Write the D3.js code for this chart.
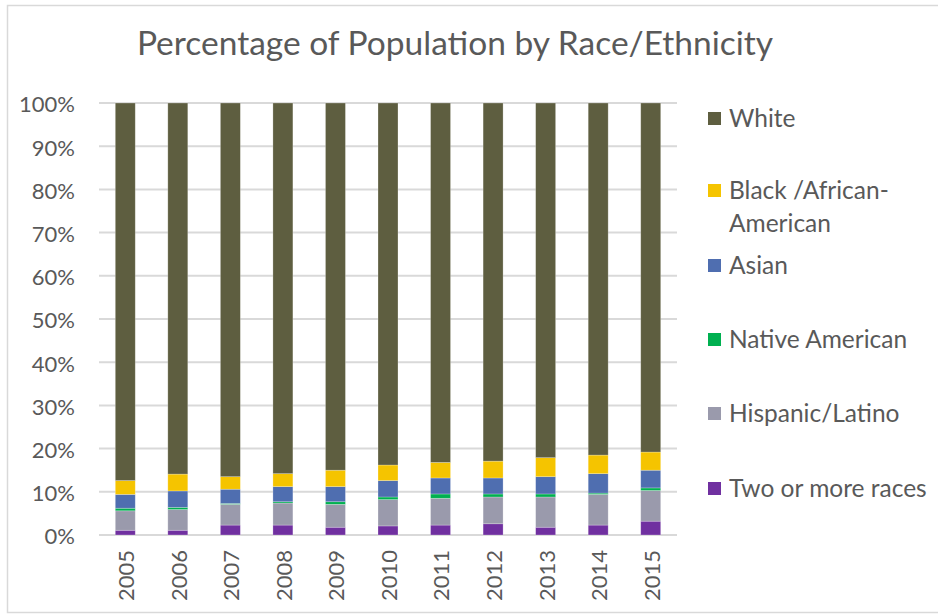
<!DOCTYPE html>
<html>
<head>
<meta charset="utf-8">
<script src="https://d3js.org/d3.v7.min.js"></script>
<style>
  body { margin: 0; background: #fff; }
  text { font-family: Lato, "Open Sans", sans-serif; fill: #595959; }
</style>
</head>
<body>
<script>

// the data (percent of population)
var years = ["2005", "2006", "2007", "2008", "2009", "2010", "2011", "2012", "2013", "2014", "2015"];
var twoOrMore = [1.1, 1.1, 2.3, 2.3, 1.8, 2.1, 2.3, 2.6, 1.8, 2.3, 3.2];
var hispanic  = [4.5, 4.8, 4.8, 5.1, 5.3, 6.1, 6.2, 6.2, 7.0, 7.1, 7.1];
var native    = [0.6, 0.5, 0.2, 0.3, 0.6, 0.6, 1.0, 0.7, 0.7, 0.3, 0.6];
var asian     = [3.2, 3.8, 3.3, 3.5, 3.5, 3.8, 3.7, 3.7, 4.0, 4.5, 4.1];
var black     = [3.2, 3.9, 2.9, 3.0, 3.8, 3.6, 3.6, 3.9, 4.4, 4.3, 4.2];
var white     = [87.4, 85.9, 86.5, 85.8, 85.0, 83.8, 83.2, 82.9, 82.1, 81.5, 80.8];
var yTicks = [0, 10, 20, 30, 40, 50, 60, 70, 80, 90, 100];

// series in stacking order (bottom first)
var keys = ["Two or more races", "Hispanic/Latino", "Native American", "Asian", "Black /African-American", "White"];
var colors = ["#7030a0", "#9a9aac", "#00b050", "#4f6eb0", "#f5c400", "#5e5e40"];

var table = years.map(function(y, i) {
  return {
    year: y,
    "Two or more races": twoOrMore[i],
    "Hispanic/Latino": hispanic[i],
    "Native American": native[i],
    "Asian": asian[i],
    "Black /African-American": black[i],
    "White": white[i]
  };
});

var W = 938, H = 615;
var plot = {left: 99, right: 677, top: 103, bottom: 535};

var svg = d3.select("body").append("svg")
    .attr("width", W)
    .attr("height", H);

// chart border (right edge runs off the picture)
svg.append("rect")
    .attr("x", 7.5).attr("y", 5.5)
    .attr("width", 960).attr("height", 607)
    .attr("fill", "#fff")
    .attr("stroke", "#d9d9d9")
    .attr("stroke-width", 1.5);

// title
svg.append("text")
    .attr("x", 455).attr("y", 55)
    .attr("text-anchor", "middle")
    .style("font-size", "33.5px")
    .text("Percentage of Population by Race/Ethnicity");

// scales
var x = d3.scaleBand().domain(years).range([plot.left, plot.right]).paddingInner(0.62).paddingOuter(0.31);
var y = d3.scaleLinear().domain([0, 100]).range([plot.bottom, plot.top]);
var color = d3.scaleOrdinal().domain(keys).range(colors);

// gridlines
svg.append("g")
  .selectAll("line")
  .data(yTicks)
  .enter().append("line")
    .attr("x1", plot.left).attr("x2", plot.right)
    .attr("y1", function(d) { return y(d); })
    .attr("y2", function(d) { return y(d); })
    .attr("stroke", "#d9d9d9")
    .attr("stroke-width", 2);

// y axis labels
var yAxis = d3.axisLeft(y).tickValues(yTicks).tickSize(0).tickPadding(24)
    .tickFormat(function(d) { return d + "%"; });
svg.append("g")
    .attr("transform", "translate(" + plot.left + ",0)")
    .call(yAxis)
    .call(function(g) { g.select(".domain").remove(); })
    .selectAll("text")
      .attr("dy", "0.4em")
      .style("font-size", "22px")
      .style("font-family", "Lato, sans-serif")
      .attr("fill", "#595959");

// stacked bars
var series = d3.stack().keys(keys)(table);

svg.append("g")
  .selectAll("g")
  .data(series)
  .enter().append("g")
    .attr("fill", function(d) { return color(d.key); })
  .selectAll("rect")
  .data(function(d) { return d; })
  .enter().append("rect")
    .attr("x", function(d) { return x(d.data.year); })
    .attr("y", function(d) { return y(d[1]); })
    .attr("height", function(d) { return y(d[0]) - y(d[1]); })
    .attr("width", x.bandwidth())
    .attr("stroke", "rgba(255,255,255,0.35)")
    .attr("stroke-width", 0.7);

// x axis labels, rotated
svg.append("g")
  .selectAll("text")
  .data(years)
  .enter().append("text")
    .attr("transform", function(d) {
      return "translate(" + (x(d) + x.bandwidth() / 2 + 1) + "," + 550 + ") rotate(-90)";
    })
    .attr("text-anchor", "end")
    .attr("dy", "0.36em")
    .style("font-size", "22px")
    .text(function(d) { return d; });

// legend, top to bottom
var legendItems = [
  {key: "White", lines: ["White"], y: 118},
  {key: "Black /African-American", lines: ["Black /African-", "American"], y: 190},
  {key: "Asian", lines: ["Asian"], y: 265},
  {key: "Native American", lines: ["Native American"], y: 339},
  {key: "Hispanic/Latino", lines: ["Hispanic/Latino"], y: 413},
  {key: "Two or more races", lines: ["Two or more races"], y: 488}
];

var legend = svg.append("g")
  .selectAll("g")
  .data(legendItems)
  .enter().append("g")
    .attr("transform", function(d) { return "translate(708," + d.y + ")"; });

legend.append("rect")
    .attr("x", 0).attr("y", -6)
    .attr("width", 13).attr("height", 13)
    .attr("fill", function(d) { return color(d.key); });

legend.append("text")
    .style("font-size", "24.5px")
  .selectAll("tspan")
  .data(function(d) { return d.lines; })
  .enter().append("tspan")
    .attr("x", 21)
    .attr("y", function(d, i) { return i * 33; })
    .attr("dy", "0.36em")
    .text(function(d) { return d; });

</script>
</body>
</html>
